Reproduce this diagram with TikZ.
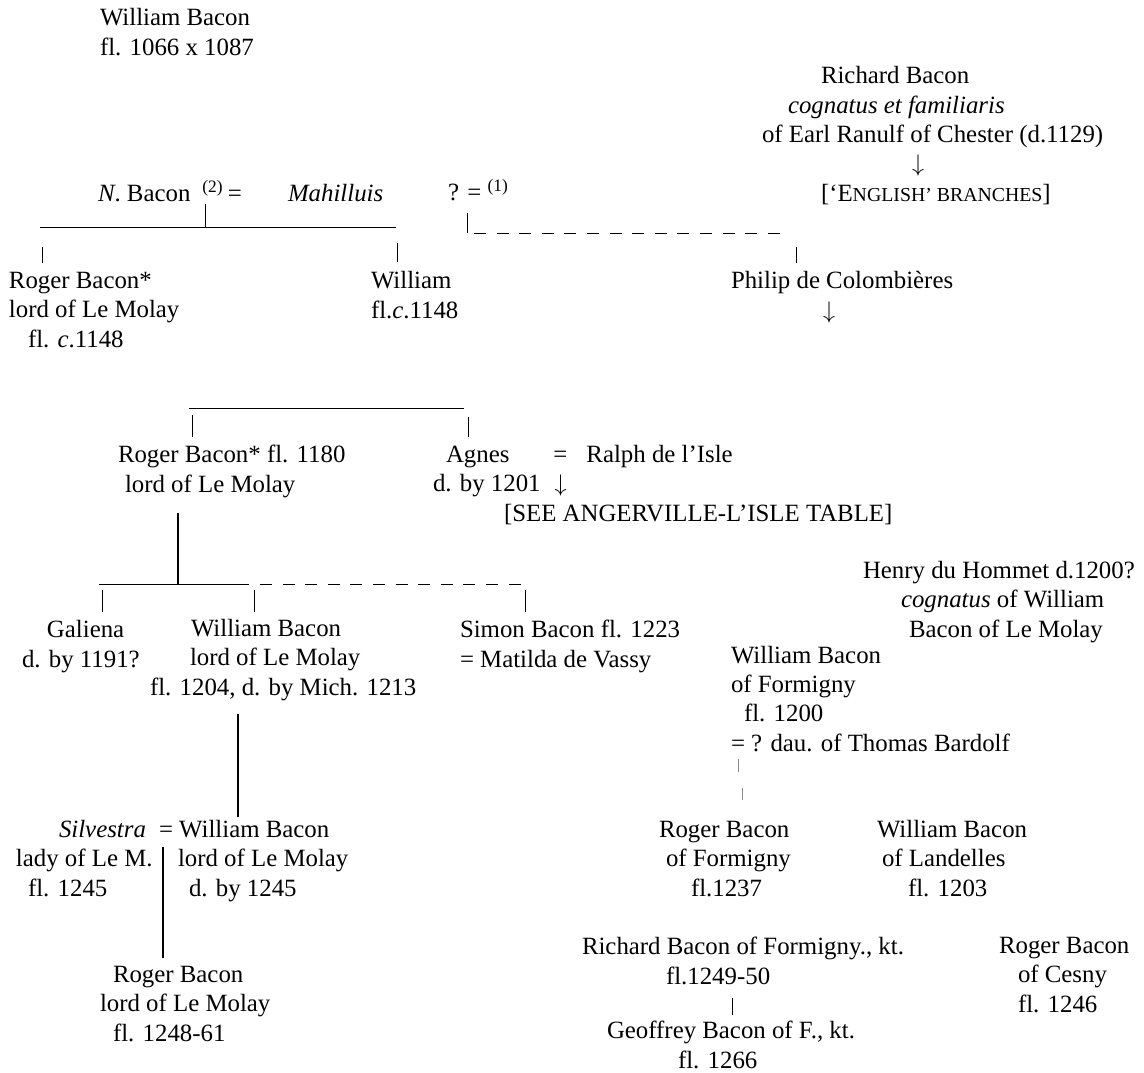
\documentclass[tikz,border=0pt]{standalone}
\usepackage{fontspec}
\setmainfont{Liberation Serif}
\usepackage{tikz}
\usetikzlibrary{calc}
\newdimen\px \px=0.5pt
\newcommand\ind[1]{\hspace*{#1\px}}
\newcommand\smcap[1]{{\fontsize{9.9}{14.65}\selectfont #1}}
\newcommand\down{\(\downarrow\)}

\begin{document}
\begin{tikzpicture}[x=0.5pt,y=-0.5pt,
  txt/.style={inner sep=0pt, outer sep=0pt, anchor=base west, align=left, font=\fontsize{12.42}{14.65}\selectfont},
  bar/.style={line width=0.5pt},
  dbar/.style={line width=0.5pt, dash pattern=on 6pt off 5.3pt},
  stem/.style={line width=1pt},
  faint/.style={line width=0.4pt, black!45}]
\useasboundingbox (0,0) rectangle (1144,1072);

% first generations (nodes are placed by the baseline of their last line)
\node[txt] (wbacon) at (100,55) {William Bacon\\fl. 1066 x 1087};
\node[txt] (richard) at (762,201) {\ind{59}Richard Bacon\\\ind{26}\textit{cognatus et familiaris}\\of Earl Ranulf of Chester (d.1129)\\\ind{150}\down\\\ind{59}[‘E\smcap{NGLISH’ BRANCHES}]};
\node[txt] (nbacon) at (98,201) {\textit{N}. Bacon\ind{12}\textsuperscript{(2)}\,=};
\node[txt] (mahil) at (288,201) {\textit{Mahilluis}};
\node[txt] (query) at (448,200) {? = \textsuperscript{(1)}};

\coordinate (b1l) at (40,227); \coordinate (b1r) at (396,227);
\coordinate (b1m) at (205,227); \coordinate (b1t) at (205,204);
\draw[bar] (b1l) -- (b1r); \draw[bar] (b1t) -- (b1m);
\coordinate (t1a) at (42,247); \coordinate (t1b) at (42,263); \draw[bar] (t1a) -- (t1b);
\coordinate (t2a) at (397,243); \coordinate (t2b) at (397,262); \draw[bar] (t2a) -- (t2b);

\coordinate (q1) at (467,213); \coordinate (q2) at (467,233); \draw[bar] (q1) -- (q2);
\coordinate (d1l) at (474,233); \coordinate (d1r) at (790,233); \draw[dbar] (d1l) -- (d1r);
\coordinate (t3a) at (796,247); \coordinate (t3b) at (796,263); \draw[bar] (t3a) -- (t3b);

\node[txt] (roger1) at (9,347) {Roger Bacon*\\lord of Le Molay\\\ind{19}fl. \textit{c}.1148};
\node[txt] (william1) at (371,318) {William\\fl.\textit{c}.1148};
\node[txt] (philip) at (731,318) {Philip de Colombières\\\ind{92}\down};

% Roger and Agnes
\coordinate (b2l) at (189,408); \coordinate (b2r) at (464,408); \draw[bar] (b2l) -- (b2r);
\coordinate (t4a) at (192,415); \coordinate (t4b) at (192,437); \draw[bar] (t4a) -- (t4b);
\coordinate (t5a) at (468,417); \coordinate (t5b) at (468,437); \draw[bar] (t5a) -- (t5b);

\node[txt] (roger2) at (118,492) {Roger Bacon* fl. 1180\\\ind{7}lord of Le Molay};
\node[txt] (agnes) at (433,521) {\ind{13}Agnes\ind{44}=\ind{19}Ralph de l’Isle\\d. by 1201\ind{14}\down\\\ind{71}[SEE ANGERVILLE-L’ISLE TABLE]};

\coordinate (r2a) at (178,513); \coordinate (r2b) at (178,584); \draw[stem] (r2a) -- (r2b);
\coordinate (b3l) at (99,584); \coordinate (b3m) at (249,584); \coordinate (b3r) at (525,584);
\draw[bar] (b3l) -- (b3m); \draw[dbar] ($(b3m)+(11,0)$) -- (b3r);
\coordinate (t6a) at (102,590); \coordinate (t6b) at (102,612); \draw[bar] (t6a) -- (t6b);
\coordinate (t7a) at (254,590); \coordinate (t7b) at (254,612); \draw[bar] (t7a) -- (t7b);
\coordinate (t8a) at (525,590); \coordinate (t8b) at (525,612); \draw[bar] (t8a) -- (t8b);

\node[txt] (galiena) at (22,667) {\ind{25}Galiena\\d. by 1191?};
\node[txt] (william2) at (150,695) {\ind{41}William Bacon\\\ind{40}lord of Le Molay\\fl. 1204, d. by Mich. 1213};
\node[txt] (simon) at (460,667) {Simon Bacon fl. 1223\\= Matilda de Vassy};

% Formigny side
\node[txt] (henry) at (863,637) {Henry du Hommet d.1200?\\\ind{38}\textit{cognatus} of William\\\ind{46}Bacon of Le Molay};
\node[txt] (william3) at (731,751) {William Bacon\\of Formigny\\\ind{13}fl. 1200\\= ? dau. of Thomas Bardolf};
\coordinate (f1a) at (738,759); \coordinate (f1b) at (738,772); \draw[faint] (f1a) -- (f1b);
\coordinate (f2a) at (742,788); \coordinate (f2b) at (742,800); \draw[faint] (f2a) -- (f2b);

\node[txt] (roger4) at (659,896) {Roger Bacon\\\ind{7}of Formigny\\\ind{32}fl.1237};
\node[txt] (william5) at (877,896) {William Bacon\\\ind{5}of Landelles\\\ind{31}fl. 1203};
\node[txt] (richard2) at (582,984) {Richard Bacon of Formigny., kt.\\\ind{84}fl.1249-50};
\coordinate (g1) at (732,998); \coordinate (g2) at (732,1015); \draw[bar] (g1) -- (g2);
\node[txt] (geoffrey) at (607,1068) {Geoffrey Bacon of F., kt.\\\ind{71}fl. 1266};
\node[txt] (roger5) at (999,1012) {Roger Bacon\\\ind{19}of Cesny\\\ind{19}fl. 1246};

% Le Molay line
\coordinate (w2a) at (238,714); \coordinate (w2b) at (238,817); \draw[stem] (w2a) -- (w2b);
\node[txt] (silvestra) at (16,896) {\ind{43}\textit{Silvestra}\\lady of Le M.\\\ind{12}fl. 1245};
\node[txt] (william4) at (159,896) {= William Bacon\\\ind{19}lord of Le Molay\\\ind{30}d. by 1245};
\coordinate (s1) at (163,847); \coordinate (s2) at (163,958); \draw[stem] (s1) -- (s2);
\node[txt] (roger3) at (100,1041) {\ind{13}Roger Bacon\\lord of Le Molay\\\ind{13}fl. 1248-61};

\end{tikzpicture}
\end{document}
